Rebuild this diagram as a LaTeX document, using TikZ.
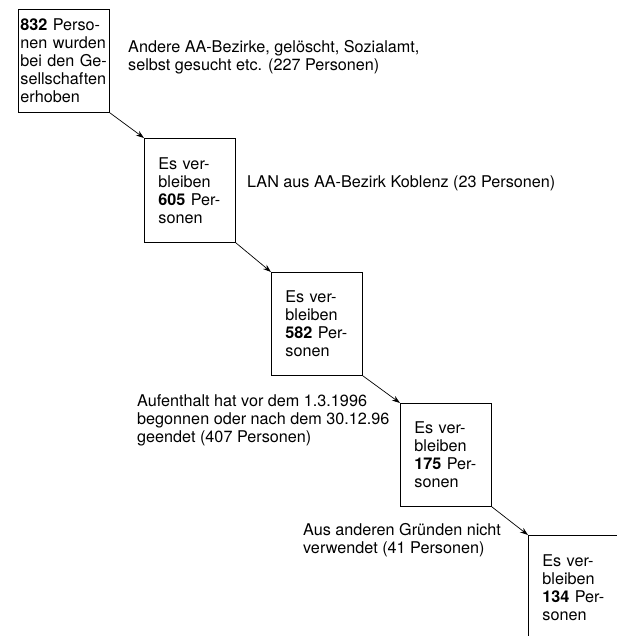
\documentclass[tikz,border=0pt]{standalone}
\usepackage{fontspec}
\setmainfont{TeX Gyre Heros}
\usetikzlibrary{arrows.meta}
\tikzset{
  stufe/.style={draw, line width=0.8pt, anchor=north west, align=left,
    text width=63pt, inner xsep=14pt, inner ysep=0pt,
    minimum width=91pt, minimum height=103pt},
  notiz/.style={anchor=north west, align=left, inner sep=0pt},
  fluss/.style={-{Stealth[length=8pt,width=5.5pt]}, line width=0.7pt}
}
\begin{document}
\begin{tikzpicture}[x=1pt, y=-1pt, font=\fontsize{16.2}{18}\selectfont]
\useasboundingbox (0,0) rectangle (617,636);
\clip (0,0) rectangle (617,636);
% Kaskade der Stichprobe
\node[stufe, text width=87pt, inner xsep=2pt] (b1) at (18,9)
  {\textbf{832} Perso-\\nen wurden\\bei den Ge-\\sellschaften\\erhoben};
\node[stufe, minimum height=104pt] (b2) at (144,138)
  {Es ver-\\bleiben\\\textbf{605} Per-\\sonen};
\node[stufe] (b3) at (271,272)
  {Es ver-\\bleiben\\\textbf{582} Per-\\sonen};
\node[stufe] (b4) at (400,403)
  {Es ver-\\bleiben\\\textbf{175} Per-\\sonen};
\node[stufe, text width=64pt, minimum width=92pt, minimum height=104pt] (b5) at (528,535)
  {Es ver-\\bleiben\\\textbf{134} Per-\\sonen};
% Abgaenge
\node[notiz] (a1) at (128,40)
  {Andere AA-Bezirke, gelöscht, Sozialamt,\\selbst gesucht etc. (227 Personen)};
\node[notiz] (a2) at (247,175) {LAN aus AA-Bezirk Koblenz (23 Personen)};
\node[notiz] (a3) at (137,394)
  {Aufenthalt hat vor dem 1.3.1996\\begonnen oder nach dem 30.12.96\\geendet (407 Personen)};
\node[notiz] (a4) at (303,523)
  {Aus anderen Gründen nicht\\verwendet (41 Personen)};
\draw[fluss] (b1.south east) -- (b2.north west);
\draw[fluss] (b2.south east) -- (b3.north west);
\draw[fluss] (b3.south east) -- (b4.north west);
\draw[fluss] (b4.south east) -- (b5.north west);
\end{tikzpicture}
\end{document}
